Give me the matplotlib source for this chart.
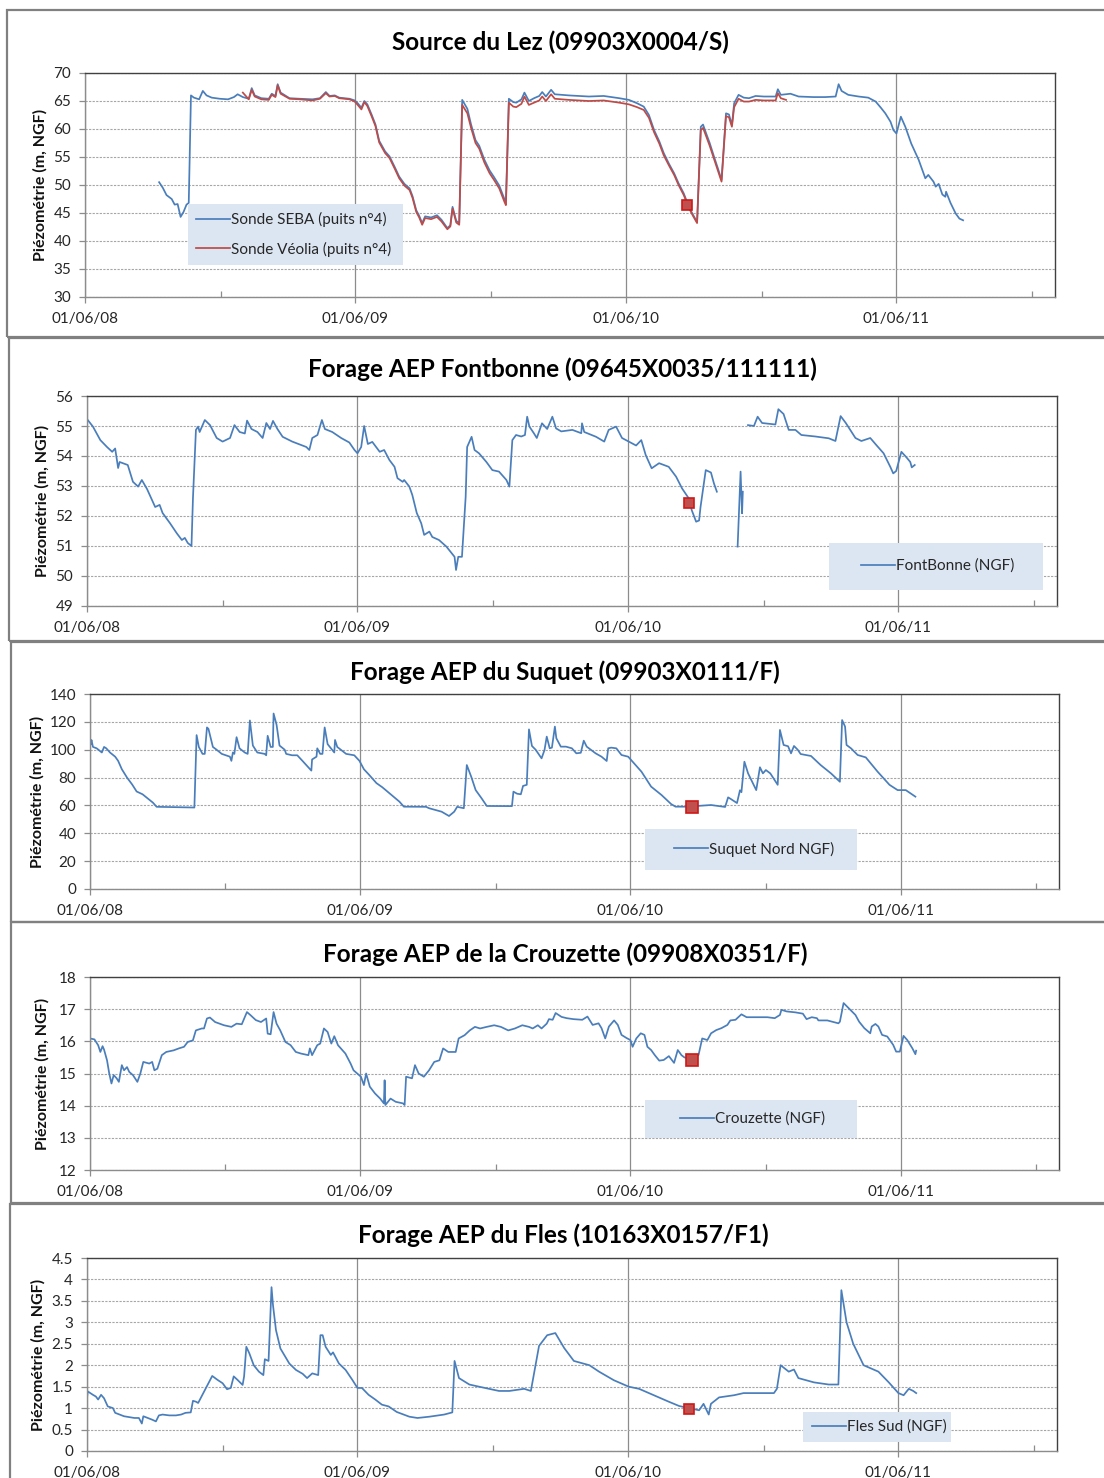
import numpy as np
import pandas as pd
import matplotlib
matplotlib.use("Agg")
import matplotlib.pyplot as plt
import matplotlib.dates as mdates
from matplotlib.patches import Rectangle
from matplotlib.ticker import FuncFormatter

plt.rcParams['font.family'] = ['Lato', 'DejaVu Sans']

# time axis: days counted from T0
T0 = pd.Timestamp("2008-06-01")
X_END = pd.Timestamp("2012-01-01")

# --- Source du Lez : sonde SEBA (puits n°4)
seba_day = [100, 105, 110, 117, 121, 125, 129, 133, 137, 140, 143, 147, 154, 159, 164, 171, 182, 193,
            201, 206, 213, 221, 225, 229, 238, 248, 252, 257, 260, 264, 276, 290, 307, 317, 325, 330,
            337, 343, 357, 364, 368, 373, 377, 381, 387, 392, 397, 405, 411, 418, 424, 431, 438, 442,
            447, 451, 455, 459, 467, 475, 481, 489, 493, 496, 501, 505, 509, 516, 521, 527, 532, 539,
            546, 552, 559, 566, 568, 572, 578, 582, 589, 593, 599, 606, 613, 617, 622, 629, 634, 653,
            680, 700, 721, 734, 745, 754, 761, 768, 775, 781, 788, 795, 801, 808, 815, 820, 826, 831,
            834, 838, 843, 849, 854, 859, 865, 869, 873, 876, 882, 889, 896, 905, 916, 932, 935, 939,
            952, 963, 983, 999, 1013, 1017, 1021, 1030, 1044, 1057, 1067, 1074, 1080, 1087, 1091, 1095,
            1101, 1107, 1115, 1125, 1131, 1134, 1138, 1145, 1148, 1152, 1157, 1161, 1162, 1168, 1175,
            1180, 1185]
seba_val = [50.5, 49.5, 48.2, 47.5, 46.5, 46.6, 44.3, 45.2, 46.5, 46.8, 66.0, 65.6, 65.3, 66.8, 66.0,
            65.6, 65.4, 65.3, 65.7, 66.2, 65.7, 65.4, 67.3, 66.0, 65.5, 65.4, 66.3, 65.9, 68.0, 66.5,
            65.5, 65.4, 65.3, 65.5, 66.6, 65.9, 66.0, 65.6, 65.4, 65.1, 64.6, 63.8, 65.0, 64.4, 62.5,
            60.8, 57.9, 56.0, 55.1, 53.2, 51.5, 50.2, 49.4, 48.0, 45.5, 44.5, 43.2, 44.4, 44.2, 44.6,
            43.8, 42.3, 42.8, 46.1, 43.6, 43.2, 65.2, 63.6, 60.8, 58.0, 57.0, 54.5, 52.6, 51.4, 49.9,
            47.5, 46.8, 65.4, 64.8, 64.7, 65.3, 66.5, 65.0, 65.5, 65.9, 66.6, 65.8, 67.0, 66.2, 66.0,
            65.8, 65.9, 65.5, 65.2, 64.6, 64.0, 62.5, 59.8, 57.8, 55.7, 53.8, 52.1, 50.3, 48.5, 46.1,
            44.8, 43.4, 60.4, 60.8, 59.3, 57.5, 55.0, 53.0, 50.9, 62.8, 62.6, 60.7, 64.6, 66.1, 65.6,
            65.5, 65.9, 65.8, 65.8, 67.1, 66.1, 66.3, 65.8, 65.7, 65.7, 65.8, 68.0, 66.8, 66.1, 65.8,
            65.6, 64.9, 63.8, 62.8, 61.3, 59.8, 59.2, 62.2, 60.4, 57.4, 54.5, 52.3, 51.2, 51.8, 50.6,
            49.7, 50.2, 48.3, 47.9, 48.8, 46.8, 44.9, 44.0, 43.7]

# --- Source du Lez : sonde Véolia (puits n°4)
veolia_day = [213, 221, 225, 229, 238, 248, 252, 257, 260, 264, 276, 290, 307, 317, 325, 330, 337, 343,
              357, 364, 368, 373, 377, 381, 387, 392, 397, 405, 411, 418, 424, 431, 438, 442, 447, 451,
              455, 459, 467, 475, 481, 489, 493, 496, 501, 505, 509, 516, 521, 527, 532, 539, 546, 552,
              559, 566, 568, 572, 578, 582, 589, 593, 599, 606, 613, 617, 622, 629, 634, 653, 680, 700,
              721, 734, 745, 754, 761, 768, 775, 781, 788, 795, 801, 808, 815, 820, 826, 831, 834, 838,
              843, 849, 854, 859, 865, 869, 873, 876, 882, 889, 896, 905, 916, 932, 935, 939, 946]
veolia_val = [66.5, 65.3, 67.0, 65.8, 65.3, 65.2, 66.1, 65.7, 67.8, 66.3, 65.4, 65.3, 65.1, 65.4, 66.4,
              65.8, 65.9, 65.5, 65.3, 64.9, 64.3, 63.5, 64.8, 64.1, 62.2, 60.5, 57.6, 55.7, 54.8, 52.9,
              51.2, 49.9, 49.1, 47.7, 45.2, 44.2, 42.9, 44.1, 43.9, 44.3, 43.5, 42.1, 42.6, 45.8, 43.3,
              42.9, 64.3, 62.8, 60.2, 57.5, 56.5, 54.0, 52.1, 50.9, 49.4, 47.0, 46.4, 64.7, 64.0, 63.9,
              64.5, 65.8, 64.3, 64.7, 65.1, 65.8, 65.0, 66.2, 65.4, 65.2, 65.0, 65.1, 64.7, 64.4, 63.9,
              63.4, 62.0, 59.4, 57.4, 55.3, 53.5, 51.8, 50.0, 48.2, 45.9, 44.6, 43.2, 59.8, 60.2, 58.8,
              57.0, 54.6, 52.6, 50.6, 62.3, 62.1, 60.4, 63.9, 65.4, 64.9, 64.9, 65.2, 65.1, 65.1, 66.4,
              65.5, 65.2]

# --- Forage AEP Fontbonne (None = no record)
fontbonne_day = [1, 8, 18, 27, 34, 38, 42, 44, 55, 62, 69, 74, 81, 92, 98, 102, 112, 121, 128, 132, 136,
                 141, 143, 147, 150, 152, 159, 166, 175, 183, 193, 199, 206, 213, 216, 222, 230, 237, 242,
                 247, 251, 257, 264, 277, 296, 300, 304, 311, 317, 321, 331, 343, 354, 361, 365, 370, 374,
                 379, 385, 395, 401, 408, 415, 419, 426, 428, 435, 439, 445, 451, 455, 462, 466, 475, 485,
                 492, 496, 498, 501, 506, 511, 513, 519, 523, 529, 539, 547, 556, 566, 570, 574, 579, 586,
                 591, 594, 597, 603, 607, 614, 621, 628, 633, 640, 655, 667, 668, 671, 687, 698, 704, 714,
                 722, 731, 741, 748, 754, 762, 772, 785, 795, 803, 812, 816, 822, 826, 828, 835, 842, 846,
                 850, 864, 878, 882, 884, 885, 888, 892, 900, 905, 911, 929, 933, 940, 947, 956, 964, 983,
                 1001, 1010, 1017, 1024, 1037, 1045, 1057, 1065, 1075, 1084, 1088, 1092, 1099, 1106, 1111,
                 1113, 1117]
fontbonne_val = [55.2, 54.98, 54.53, 54.3, 54.14, 54.25, 53.6, 53.8, 53.7, 53.14, 52.98, 53.2, 52.9, 52.3,
                 52.37, 52.1, 51.76, 51.43, 51.2, 51.27, 51.1, 51.0, 52.6, 54.87, 54.98, 54.8, 55.2, 55.03,
                 54.6, 54.48, 54.6, 55.03, 54.8, 54.75, 55.18, 54.9, 54.8, 54.6, 55.1, 54.9, 55.17, 54.9,
                 54.64, 54.48, 54.3, 54.2, 54.6, 54.7, 55.2, 54.9, 54.8, 54.6, 54.45, 54.2, 54.09, 54.3,
                 55.0, 54.4, 54.47, 54.14, 54.2, 53.87, 53.64, 53.26, 53.14, 53.2, 52.98, 52.7, 52.1, 51.76,
                 51.37, 51.48, 51.3, 51.2, 50.98, 50.76, 50.64, 50.2, 50.64, 50.64, 52.64, 54.3, 54.64,
                 54.2, 54.09, 53.8, 53.53, 53.48, 53.2, 52.98, 54.53, 54.7, 54.65, 54.7, 55.31, 54.98,
                 54.76, 54.6, 55.09, 54.9, 55.31, 54.92, 54.82, 54.87, 54.76, 55.09, 54.8, 54.64, 54.48,
                 54.87, 54.98, 54.6, 54.48, 54.35, 54.53, 54.03, 53.59, 53.76, 53.64, 53.31, 52.92, 52.59,
                 52.2, 51.81, 51.85, 52.31, 53.53, 53.45, 53.09, 52.81, None, 50.98, 53.48, 52.09, 52.81,
                 None, 55.03, 55.0, 55.31, 55.1, 55.05, 55.56, 55.4, 54.87, 54.87, 54.7, 54.65, 54.59,
                 54.5, 55.33, 55.1, 54.6, 54.5, 54.6, 54.37, 54.09, 53.64, 53.42, 53.5, 54.14, 53.95,
                 53.8, 53.62, 53.7]

# --- Forage AEP du Suquet
suquet_day = [1, 2, 4, 9, 16, 19, 22, 27, 34, 38, 43, 50, 57, 63, 71, 78, 85, 90, 141, 144, 147, 152,
              155, 158, 160, 166, 171, 178, 189, 191, 193, 195, 198, 202, 209, 213, 216, 220, 226, 236,
              238, 240, 244, 247, 248, 252, 256, 263, 265, 273, 280, 287, 299, 300, 306, 307, 311, 314,
              317, 321, 327, 330, 331, 334, 346, 357, 364, 370, 377, 387, 395, 404, 418, 424, 454, 458,
              475, 485, 492, 496, 505, 509, 515, 521, 529, 536, 570, 572, 577, 582, 585, 590, 593, 597,
              602, 610, 614, 617, 621, 624, 628, 630, 636, 643, 651, 657, 663, 667, 671, 683, 691, 698,
              700, 704, 711, 718, 727, 731, 745, 758, 772, 785, 791, 806, 839, 858, 862, 866, 874, 878,
              880, 884, 889, 900, 905, 909, 913, 919, 929, 932, 937, 943, 947, 951, 956, 960, 974, 987,
              1001, 1013, 1016, 1020, 1022, 1028, 1037, 1048, 1064, 1080, 1091, 1102, 1115]
suquet_val = [104, 107, 102, 101, 98, 102, 101, 98, 95, 92, 86, 80, 75, 70, 68, 65, 62, 59, 58.5, 110.5,
              102, 97, 97, 116, 115, 102, 100, 97, 95, 92, 98, 97, 109, 101, 98, 97, 121, 103, 98, 97,
              96, 110, 102, 102, 126, 118, 103, 100, 97, 96, 96, 92, 85, 93, 95, 101, 97, 97, 116, 104,
              100, 98, 107, 102, 97, 96, 92, 86, 82, 76, 73, 69, 62.7, 59.1, 59, 58, 55.5, 52.4, 55.5,
              59, 58, 89, 80.6, 71, 65.1, 59.6, 59.5, 69.9, 68.4, 68, 74, 74.8, 114.6, 102.7, 100, 93.8,
              99.8, 109.4, 101, 101.5, 116.6, 108.2, 102.2, 102.2, 101, 97.4, 97.8, 106.5, 102.2, 97.4,
              95, 91.9, 101, 101.5, 101, 96.2, 95, 92.6, 84.2, 73.5, 67.5, 61, 59.1, 59.1, 60.3, 58.9,
              65.8, 64.5, 61.7, 70.9, 69.5, 91.4, 83, 71, 87.4, 83, 85.4, 83, 74.8, 114.2, 103.4, 102.5,
              97.4, 102.7, 100, 96.9, 95.5, 89, 83, 77, 121.3, 116.6, 103.4, 101, 96.2, 94.5, 84.2, 74.8,
              71, 71, 66.3]

# --- Forage AEP de la Crouzette
crouzette_day = [0, 6, 11, 14, 17, 19, 23, 26, 29, 32, 36, 39, 43, 46, 50, 53, 58, 64, 68, 72, 80, 84,
                 87, 91, 97, 103, 113, 120, 127, 132, 139, 143, 151, 154, 158, 162, 169, 181, 191, 198,
                 205, 212, 217, 224, 231, 238, 240, 244, 248, 252, 257, 264, 271, 278, 285, 295, 297, 300,
                 307, 311, 316, 321, 326, 330, 335, 345, 352, 356, 361, 366, 370, 373, 378, 385, 392, 397,
                 398, 399, 406, 413, 423, 425, 427, 435, 439, 444, 451, 458, 465, 472, 477, 484, 494, 498,
                 506, 513, 520, 527, 536, 546, 555, 565, 574, 584, 593, 598, 605, 610, 617, 620, 625, 629,
                 637, 644, 653, 665, 672, 679, 687, 691, 696, 701, 708, 713, 718, 725, 730, 733, 738, 744,
                 749, 753, 758, 763, 769, 775, 782, 789, 794, 799, 803, 811, 822, 827, 834, 839, 846, 853,
                 861, 865, 872, 880, 887, 901, 915, 925, 932, 934, 941, 953, 963, 968, 975, 982, 984, 996,
                 1011, 1013, 1018, 1025, 1034, 1039, 1046, 1054, 1056, 1061, 1065, 1070, 1077, 1085, 1089,
                 1094, 1099, 1104, 1111, 1115, 1116]
crouzette_val = [16.09, 16.06, 15.88, 15.67, 15.85, 15.74, 15.41, 15.0, 14.69, 14.95, 14.85, 14.74, 15.26,
                 15.1, 15.2, 15.05, 14.95, 14.74, 15.0, 15.36, 15.31, 15.36, 15.1, 15.15, 15.57, 15.67,
                 15.72, 15.78, 15.83, 15.98, 16.03, 16.34, 16.4, 16.4, 16.71, 16.74, 16.6, 16.5, 16.45,
                 16.55, 16.53, 16.91, 16.81, 16.66, 16.6, 16.71, 16.24, 16.22, 16.91, 16.55, 16.34, 15.98,
                 15.88, 15.67, 15.62, 15.57, 15.78, 15.57, 15.88, 15.93, 16.4, 16.29, 15.93, 16.16, 15.88,
                 15.62, 15.31, 15.1, 15.0, 14.9, 14.64, 15.0, 14.59, 14.38, 14.22, 14.07, 14.79, 14.02,
                 14.22, 14.12, 14.07, 14.02, 14.9, 14.85, 15.26, 15.0, 14.9, 15.1, 15.36, 15.41, 15.78,
                 15.67, 15.67, 16.09, 16.19, 16.34, 16.45, 16.4, 16.45, 16.5, 16.45, 16.34, 16.4, 16.5,
                 16.45, 16.4, 16.5, 16.4, 16.55, 16.69, 16.67, 16.88, 16.76, 16.72, 16.69, 16.67, 16.77,
                 16.51, 16.56, 16.41, 16.09, 16.46, 16.65, 16.51, 16.2, 16.1, 16.04, 15.83, 16.09, 16.25,
                 16.2, 15.83, 15.73, 15.57, 15.4, 15.42, 15.54, 15.33, 15.73, 15.57, 15.5, 15.45, 15.57,
                 16.09, 16.04, 16.25, 16.35, 16.41, 16.51, 16.65, 16.67, 16.84, 16.75, 16.75, 16.75, 16.72,
                 16.82, 16.98, 16.93, 16.9, 16.86, 16.69, 16.75, 16.72, 16.65, 16.65, 16.56, 16.61, 17.19,
                 17.03, 16.82, 16.61, 16.41, 16.25, 16.46, 16.54, 16.46, 16.2, 16.15, 15.89, 15.68, 15.68,
                 16.17, 16.04, 15.78, 15.6, 15.71]

# --- Forage AEP du Fles
fles_day = [0, 1, 8, 12, 15, 19, 23, 28, 35, 38, 44, 50, 57, 64, 70, 74, 76, 82, 88, 93, 97, 102, 111,
            120, 127, 133, 140, 143, 147, 150, 169, 176, 183, 189, 194, 198, 203, 210, 212, 215, 219, 225,
            232, 238, 240, 245, 249, 251, 255, 261, 273, 282, 291, 297, 304, 312, 315, 318, 322, 329, 332,
            340, 349, 358, 365, 371, 380, 389, 398, 407, 418, 435, 446, 462, 482, 493, 496, 502, 516, 529,
            556, 570, 590, 599, 610, 621, 632, 644, 657, 678, 691, 711, 731, 745, 765, 785, 799, 812, 826,
            832, 839, 842, 853, 873, 886, 907, 927, 931, 936, 947, 954, 960, 981, 1001, 1014, 1018, 1025,
            1034, 1048, 1068, 1082, 1095, 1102, 1109, 1115, 1119]
fles_val = [1.23, 1.39, 1.31, 1.27, 1.2, 1.31, 1.23, 1.04, 1.0, 0.89, 0.85, 0.81, 0.79, 0.77, 0.77, 0.64,
            0.81, 0.77, 0.73, 0.69, 0.83, 0.85, 0.83, 0.83, 0.85, 0.89, 0.9, 1.17, 1.15, 1.12, 1.75, 1.66,
            1.58, 1.44, 1.47, 1.74, 1.66, 1.54, 1.74, 2.43, 2.28, 2.0, 1.85, 1.77, 2.14, 2.1, 3.82, 3.4,
            2.82, 2.39, 2.04, 1.89, 1.8, 1.7, 1.81, 1.77, 2.7, 2.7, 2.43, 2.24, 2.3, 2.04, 1.89, 1.66,
            1.47, 1.47, 1.31, 1.2, 1.08, 1.04, 0.91, 0.8, 0.77, 0.8, 0.85, 0.9, 2.1, 1.7, 1.55, 1.5, 1.4,
            1.4, 1.45, 1.4, 2.45, 2.7, 2.75, 2.4, 2.1, 2.0, 1.85, 1.65, 1.5, 1.45, 1.3, 1.15, 1.05, 1.0,
            0.95, 1.1, 0.85, 1.1, 1.25, 1.3, 1.35, 1.35, 1.35, 1.45, 2.0, 1.85, 1.9, 1.7, 1.6, 1.55,
            1.55, 3.75, 3.0, 2.5, 2.0, 1.85, 1.6, 1.35, 1.3, 1.45, 1.4, 1.35]

# highlighted date and levels (red squares)
mark_day = 813
mark_val = {"lez": 46.4, "fontbonne": 52.43, "suquet": 59.0, "crouzette": 15.42, "fles": 0.98}

titles = ["Source du Lez (09903X0004/S)",
          "Forage AEP Fontbonne (09645X0035/111111)",
          "Forage AEP du Suquet (09903X0111/F)",
          "Forage AEP de la Crouzette (09908X0351/F)",
          "Forage AEP du Fles (10163X0157/F1)"]
ylabel = "Piézométrie (m, NGF)"

W, H = 1104, 1478
BLUE = "#4a7ebb"
RED = "#be4b48"
GRID = "#8c8c8c"
TXT = "#262626"


def to_dates(days):
    return (T0 + pd.to_timedelta(np.asarray(days, dtype=float), unit="D")).to_numpy()


def vals(v):
    return np.array([np.nan if x is None else x for x in v], dtype=float)


fig = plt.figure(figsize=(W / 100, H / 100), dpi=100)


def fig_box(l, t, r, b):
    return [l / W, 1 - b / H, (r - l) / W, (b - t) / H]


def setup(ax, ylim, ystep):
    ax.set_xlim(T0, X_END)
    ax.set_ylim(*ylim)
    ax.set_yticks(np.arange(ylim[0], ylim[1] + ystep / 2, ystep))
    ax.yaxis.set_major_formatter(FuncFormatter(lambda v, p: f"{v:g}"))
    ax.xaxis.set_major_locator(mdates.MonthLocator(bymonth=6))
    ax.xaxis.set_minor_locator(mdates.MonthLocator(bymonth=12))
    ax.xaxis.set_major_formatter(mdates.DateFormatter("%d/%m/%y"))
    ax.grid(axis="x", which="major", color=GRID, lw=0.9)
    ax.grid(axis="y", color="#a6a6a6", lw=0.8, ls=(0, (2, 1.2)))
    ax.set_axisbelow(True)
    for s in ("left", "bottom"):
        ax.spines[s].set_color(GRID)
        ax.spines[s].set_linewidth(1.0)
    for s in ("top", "right"):
        ax.spines[s].set_color("#404040")
        ax.spines[s].set_linewidth(1.0)
    ax.tick_params(axis="both", which="major", direction="out", length=4, width=0.9,
                   color=GRID, labelsize=11, labelcolor=TXT)
    ax.tick_params(axis="x", which="major", pad=7)
    ax.tick_params(axis="y", which="major", pad=6)
    ax.tick_params(axis="x", which="minor", direction="in", length=4, width=0.9, color=GRID)


def add_legend(ax, handles, box, anchor):
    l, t, r, b = box
    ax.add_artist(Rectangle((l / W, 1 - b / H), (r - l) / W, (b - t) / H,
                            transform=fig.transFigure, facecolor="#dce6f2",
                            edgecolor="none", zorder=6, clip_on=False))
    leg = ax.legend(handles=handles, loc="center left",
                    bbox_to_anchor=(anchor[0] / W, 1 - anchor[1] / H),
                    bbox_transform=fig.transFigure, frameon=False, borderpad=0,
                    borderaxespad=0, handlelength=2.2, handletextpad=0.12,
                    labelspacing=0.95, fontsize=11)
    for txt in leg.get_texts():
        txt.set_color(TXT)
    leg.set_zorder(7)


def draw_marker(ax, value, size):
    ax.plot(to_dates([mark_day]), [value], ls="none", marker="s", ms=size,
            mfc="#c0504d", mec="#d01818", mew=1.2, zorder=5)


# panel frames
frames = [(7, 10, 1112, 337), (9, 338, 1112, 641), (11, 642, 1112, 922),
          (11, 922, 1112, 1203), (10, 1204, 1112, 1490)]
for l, t, r, b in frames:
    fig.add_artist(Rectangle((l / W, 1 - b / H), (r - l) / W, (b - t) / H,
                             transform=fig.transFigure, fill=False,
                             edgecolor="#808080", lw=1.6, zorder=0))

boxes = [(85, 73, 1055, 297), (87, 396, 1057, 606), (90, 694, 1059, 889),
         (90, 977, 1059, 1170), (87, 1258, 1057, 1451)]
title_pos = [(560, 42), (562, 369), (565, 672), (565, 954), (563, 1235)]
ylabel_x = [40, 42, 37, 42, 38]
axes = []
for i, bx in enumerate(boxes):
    ax = fig.add_axes(fig_box(*bx))
    axes.append(ax)
    fig.text(title_pos[i][0] / W, 1 - title_pos[i][1] / H, titles[i], ha="center", va="center",
             fontsize=17.5, fontweight="bold", color="black")
    fig.text(ylabel_x[i] / W, 1 - (bx[1] + bx[3]) / 2 / H, ylabel, rotation=90,
             ha="center", va="center", fontsize=11.5, fontweight="bold", color="#111111")

# 1 - Source du Lez
ax = axes[0]
setup(ax, (30, 70), 5)
h1, = ax.plot(to_dates(seba_day), vals(seba_val), color=BLUE, lw=1.25, label="Sonde SEBA (puits n°4)")
h2, = ax.plot(to_dates(veolia_day), vals(veolia_val), color=RED, lw=1.25, label="Sonde Véolia (puits n°4)")
draw_marker(ax, mark_val["lez"], 7)
add_legend(ax, [h1, h2], (188, 204, 403, 265), (196, 234.5))

# 2 - Fontbonne
ax = axes[1]
setup(ax, (49, 56), 1)
h, = ax.plot(to_dates(fontbonne_day), vals(fontbonne_val), color=BLUE, lw=1.25, label="FontBonne (NGF)")
draw_marker(ax, mark_val["fontbonne"], 7)
add_legend(ax, [h], (829, 543, 1043, 590), (861, 566))

# 3 - Suquet
ax = axes[2]
setup(ax, (0, 140), 20)
h, = ax.plot(to_dates(suquet_day), vals(suquet_val), color=BLUE, lw=1.25, label="Suquet Nord NGF)")
draw_marker(ax, mark_val["suquet"], 8.5)
add_legend(ax, [h], (645, 829, 857, 870), (674, 849))

# 4 - Crouzette
ax = axes[3]
setup(ax, (12, 18), 1)
h, = ax.plot(to_dates(crouzette_day), vals(crouzette_val), color=BLUE, lw=1.25, label="Crouzette (NGF)")
draw_marker(ax, mark_val["crouzette"], 8.5)
add_legend(ax, [h], (645, 1100, 857, 1138), (680, 1119))

# 5 - Fles
ax = axes[4]
setup(ax, (0, 4.5), 0.5)
h, = ax.plot(to_dates(fles_day), vals(fles_val), color=BLUE, lw=1.25, label="Fles Sud (NGF)")
draw_marker(ax, mark_val["fles"], 7)
add_legend(ax, [h], (803, 1412, 951, 1442), (812, 1427))

fig.savefig("out.png", dpi=100)
